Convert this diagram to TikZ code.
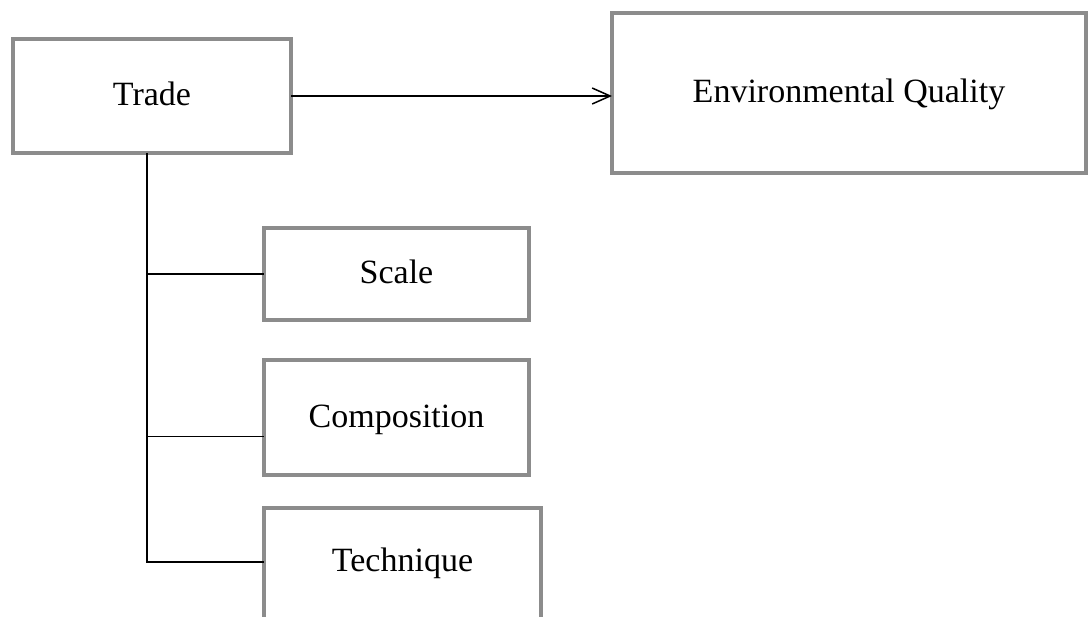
\documentclass[tikz,border=0pt]{standalone}
\usepackage{fontspec}
\setmainfont{Liberation Serif}
\usetikzlibrary{positioning,arrows.meta,calc}
\definecolor{boxgray}{HTML}{8C8C8C}

\begin{document}
\begin{tikzpicture}[
        x=0.5pt, y=-0.5pt,
        every node/.style={font=\fontsize{17}{20}\selectfont, align=center},
        box/.style={draw=boxgray, line width=2pt, outer sep=0pt, inner sep=0pt, text height=9.5pt, text depth=0pt},
        link/.style={draw=black, line width=0.75pt},
        arr/.style={link, -{Straight Barb[length=9pt, width=8pt, line width=0.75pt]}}
      ]
        \useasboundingbox (0,0) rectangle (1090,616);
        \clip (0,0) rectangle (1090,616);
        % top row
        \node[box, minimum width=139pt, minimum height=57pt] (trade) at (152,96) {Trade};
        \node[box, minimum width=237pt, minimum height=80pt] (envq) at (849,93) {Environmental Quality};
        % channels
        \node[box, minimum width=132.5pt, minimum height=46pt] (scale) at (396.5,274) {Scale};
        \node[box, minimum width=132.5pt, minimum height=57.5pt] (comp) at (396.5,417.5) {Composition};
        \node[box, minimum width=138.5pt, minimum height=60pt, text height=3pt] (tech) at (402.5,568) {Technique};
        \coordinate (trunk) at ($(trade.south)+(-5,0)$);
        \coordinate (compin) at ($(comp.west)+(0,19)$);
        \coordinate (techin) at ($(tech.west)+(0,-6)$);
        \draw[arr] (trade.east) -- (trade.east -| envq.west);
        \draw[link] (trunk) -- (trunk |- techin) -- (techin);
        \draw[link] (trunk |- scale.west) -- (scale.west);
        \draw[link] (trunk |- compin) -- (compin);
      \end{tikzpicture}
\end{document}
